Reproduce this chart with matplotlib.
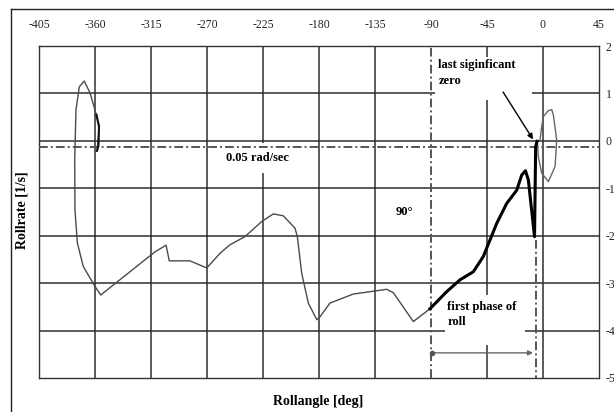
import matplotlib
matplotlib.use("Agg")
import matplotlib.pyplot as plt
from matplotlib.patches import Rectangle
from matplotlib.lines import Line2D

# ---- data ----
x_ticks = [-405, -360, -315, -270, -225, -180, -135, -90, -45, 0, 45]
y_ticks = [2, 1, 0, -1, -2, -3, -4, -5]
grid_x = [-360, -315, -270, -225, -180, -135, -45, 0]
grid_y = [1, 0, -1, -2, -3, -4]

# thin trace (left part), roll angle [deg] / roll rate [1/s]
thin_angle = [-358.4, -356.5, -360.0, -364.0, -368.6, -372.6, -375.3, -376.3,
              -376.1, -374.2, -369.4, -360.0, -355.4, -311.8, -302.9, -300.3,
              -283.7, -270.2, -259.5, -251.5, -239.5, -226.0, -216.7, -208.7,
              -199.3, -197.4, -193.9, -188.6, -181.8, -179.2, -171.2, -152.4,
              -133.6, -125.6, -120.3, -104.2, -90.8]
thin_rate = [-0.21, 0.30, 0.65, 1.01, 1.26, 1.14, 0.65, -0.40,
             -1.46, -2.15, -2.65, -3.07, -3.25, -2.34, -2.20, -2.53,
             -2.53, -2.68, -2.37, -2.19, -2.02, -1.70, -1.54, -1.58,
             -1.84, -2.02, -2.79, -3.42, -3.77, -3.71, -3.42, -3.23,
             -3.16, -3.13, -3.20, -3.81, -3.54]

# start stub (dark)
start_angle = [-358.4, -357.2, -356.8, -358.8]
start_rate = [-0.21, -0.10, 0.30, 0.55]

# thick trace: first phase of roll
thick_angle = [-90.8, -77.4, -66.7, -56.0, -48.0, -42.6, -37.2, -29.2, -21.1,
               -17.1, -14.1, -11.8, -6.8, -5.9, -4.8]
thick_rate = [-3.54, -3.18, -2.93, -2.76, -2.44, -2.09, -1.74, -1.32, -1.04,
              -0.72, -0.63, -0.82, -2.02, -0.12, -0.01]

# loop after last significant zero
loop_angle = [-4.8, -2.4, -1.05, 0.2, 4.0, 7.0, 8.3, 11.0, 9.7, 4.3, -1.05,
              -3.8, -4.4]
loop_rate = [-0.01, 0.02, 0.30, 0.51, 0.63, 0.66, 0.55, 0.02, -0.54, -0.86,
             -0.68, -0.33, -0.04]

threshold_rate = -0.12
phase_start = -90.0
phase_end = -5.6

# ---- figure ----
fig = plt.figure(figsize=(6.14, 4.12), dpi=100)
W, H = 614, 412
ax = fig.add_axes([39 / W, 1 - 378 / H, 560 / W, 332 / H])
ax.set_xlim(-405, 45)
ax.set_ylim(-5, 2)

serif = ["Liberation Serif", "DejaVu Serif"]
grid_c = "#2e2e2e"

for gx in grid_x:
    ax.axvline(gx, color=grid_c, lw=1.1, zorder=1)
for gy in grid_y:
    ax.axhline(gy, color=grid_c, lw=1.1, zorder=1)

# white boxes behind annotation texts
for (x0, x1, y0, y1) in [(-86.8, -8.8, 0.86, 1.77),
                         (-255.5, -201.7, -0.68, -0.04),
                         (-78.7, -14.5, -4.30, -3.25)]:
    ax.add_patch(Rectangle((x0, y0), x1 - x0, y1 - y0, facecolor="white",
                           edgecolor="none", zorder=2))

dd = (0, (4.5, 1.6, 1.0, 1.6))
ax.axhline(threshold_rate, color="#555555", lw=1.4, ls=dd, zorder=4)
ax.axvline(phase_start, color="#555555", lw=1.4, ls=dd, zorder=4)
ax.plot([phase_end, phase_end], [-2.1, -5], color="#555555", lw=1.4, ls=dd,
        zorder=4)

ax.plot(thin_angle, thin_rate, color="#4a4a4a", lw=1.0, zorder=5)
ax.plot(start_angle, start_rate, color="#111111", lw=1.5, zorder=5)
ax.plot(thick_angle, thick_rate, color="black", lw=2.2, zorder=6,
        solid_joinstyle="round")
ax.plot(loop_angle, loop_rate, color="#666666", lw=1.0, zorder=5)

tk = dict(fontfamily=serif, fontsize=9, fontweight="bold")
ax.text(-229.8, -0.36, "0.05 rad/sec", ha="center", va="center", zorder=7, **tk)
ax.text(-111, -1.5, "90°", ha="center", va="center", zorder=7, **tk)
ax.text(-84.0, 1.43, "last siginficant\nzero", ha="left", va="center",
        linespacing=1.4, zorder=7, **tk)
ax.text(-77.0, -3.66, "first phase of\nroll", ha="left", va="center",
        linespacing=1.4, zorder=7, **tk)

ax.annotate("", xy=(-8.0, 0.03), xytext=(-32.1, 1.03),
            arrowprops=dict(arrowstyle="-|>", color="black", lw=1.0,
                            mutation_scale=8, shrinkA=0, shrinkB=0),
            zorder=8)
ax.annotate("", xy=(-8.0, -4.47), xytext=(-89.2, -4.47),
            arrowprops=dict(arrowstyle="-|>", color="#666666", lw=1.0,
                            mutation_scale=7, shrinkA=0, shrinkB=0),
            zorder=8)
ax.plot([-89.2], [-4.47], marker="o", ms=3, color="#555555", zorder=8)

ax.xaxis.tick_top()
ax.yaxis.tick_right()
ax.set_xticks(x_ticks)
ax.set_yticks(y_ticks)
ax.set_xticklabels([str(v) for v in x_ticks], fontfamily=serif, fontsize=8.5)
ax.set_yticklabels([str(v) for v in y_ticks], fontfamily=serif, fontsize=8.5)
ax.tick_params(axis="x", length=0, pad=11, colors="#222222")
ax.tick_params(axis="y", length=0, pad=5, colors="#222222")
for s in ax.spines.values():
    s.set_color("#333333")
    s.set_linewidth(1.0)

fig.text(318 / W, 1 - 402 / H, "Rollangle [deg]", ha="center", va="center",
         fontfamily=serif, fontsize=10, fontweight="bold")
fig.text(22 / W, 1 - 210 / H, "Rollrate [1/s]", ha="center", va="center",
         rotation=90, fontfamily=serif, fontsize=10, fontweight="bold")

# outer frame
fig.add_artist(Line2D([11 / W, 11 / W], [0, 1 - 9 / H], color="#222222",
                      lw=1.0))
fig.add_artist(Line2D([11 / W, 1], [1 - 9 / H, 1 - 9 / H], color="#222222",
                      lw=1.0))

fig.savefig("out.png", dpi=100)
